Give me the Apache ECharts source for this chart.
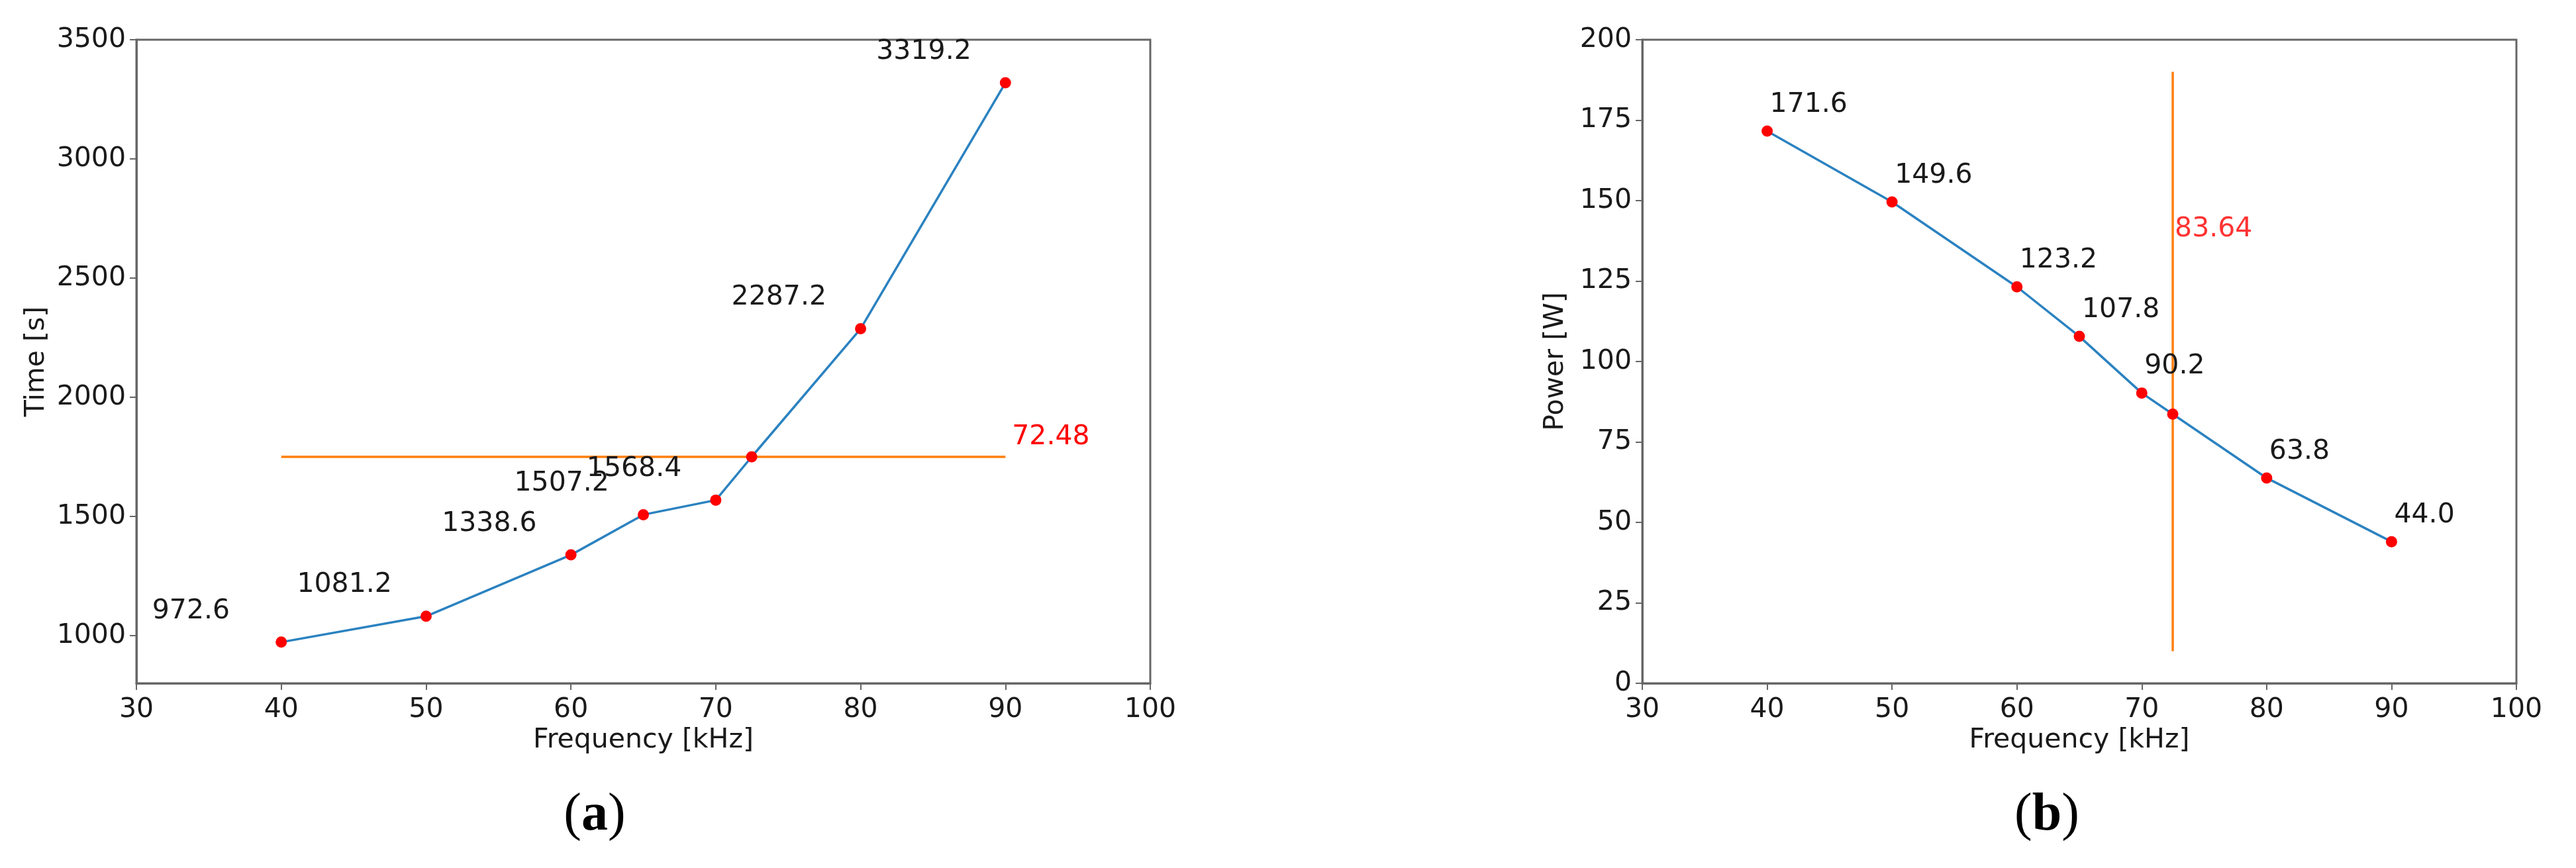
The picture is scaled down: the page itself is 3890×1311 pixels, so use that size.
<!DOCTYPE html>
<html>
<head>
<meta charset="utf-8">
<script src="https://cdn.jsdelivr.net/npm/echarts@6/dist/echarts.min.js"></script>
<style>
  html, body { margin: 0; padding: 0; background: #fff; }
  #main { width: 3890px; height: 1311px; }
</style>
</head>
<body>
<div id="main"></div>
<script>
// measured points
const freq = [40, 50, 60, 65, 70, 80, 90];
const time = [972.6, 1081.2, 1338.6, 1507.2, 1568.4, 2287.2, 3319.2];
const power = [171.6, 149.6, 123.2, 107.8, 90.2, 63.8, 44.0];

// optimum crossing
const optFreq = 72.48;
const timeLimit = 1750;
const optPower = 83.64;
const limitSpan = [40, 90];      // horizontal line in (a)
const powerSpan = [10, 190];     // vertical line in (b)
const noteB = [optFreq, 141];    // where the 83.64 text sits

const timeTicks = [1000, 1500, 2000, 2500, 3000, 3500];

const FONT = 'DejaVu Sans';
const TXT = '#1a1a1a';
const AX = '#666';

// merge the crossing point into the curve, without a label
function withCross(ys, crossY) {
  var out = [];
  for (var i = 0; i < freq.length; i++) {
    if (freq[i] > optFreq && (i == 0 || freq[i - 1] < optFreq)) {
      out.push({ value: [optFreq, crossY], label: { show: false } });
    }
    out.push([freq[i], ys[i]]);
  }
  return out;
}

function plain(v) { return String(v); }

function xAx(idx) {
  return {
    gridIndex: idx, type: 'value', min: 30, max: 100, interval: 10,
    name: 'Frequency [kHz]', nameLocation: 'middle', nameGap: 64,
    nameTextStyle: { fontSize: 41, color: TXT, fontFamily: FONT },
    axisLine: { show: true, lineStyle: { color: AX, width: 3 } },
    axisTick: { show: true, length: 10, lineStyle: { color: AX, width: 2 } },
    axisLabel: { fontSize: 41, color: TXT, fontFamily: FONT, margin: 20, formatter: plain },
    splitLine: { show: false }
  };
}

var chart = echarts.init(document.getElementById('main'));
var option = {
  backgroundColor: '#fff',
  animation: false,
  grid: [
    { left: 206, top: 60, width: 1531, height: 972, show: true, borderColor: AX, borderWidth: 3 },
    { left: 2480, top: 60, width: 1320, height: 972, show: true, borderColor: AX, borderWidth: 3 }
  ],
  xAxis: [xAx(0), xAx(1)],
  yAxis: [{
    gridIndex: 0, type: 'value', min: 800, max: 3500,
    name: 'Time [s]', nameLocation: 'middle', nameGap: 130,
    nameTextStyle: { fontSize: 41, color: TXT, fontFamily: FONT },
    axisLine: { show: true, lineStyle: { color: AX, width: 3 } },
    axisTick: { show: true, length: 10, customValues: timeTicks, lineStyle: { color: AX, width: 2 } },
    axisLabel: { fontSize: 41, color: TXT, fontFamily: FONT, margin: 16, customValues: timeTicks, formatter: plain },
    splitLine: { show: false }
  }, {
    gridIndex: 1, type: 'value', min: 0, max: 200, interval: 25,
    name: 'Power [W]', nameLocation: 'middle', nameGap: 110,
    nameTextStyle: { fontSize: 41, color: TXT, fontFamily: FONT },
    axisLine: { show: true, lineStyle: { color: AX, width: 3 } },
    axisTick: { show: true, length: 10, lineStyle: { color: AX, width: 2 } },
    axisLabel: { fontSize: 41, color: TXT, fontFamily: FONT, margin: 16, formatter: plain },
    splitLine: { show: false }
  }],
  series: [{
    // (a) time limit line
    type: 'line', xAxisIndex: 0, yAxisIndex: 0,
    data: [[limitSpan[0], timeLimit], [limitSpan[1], timeLimit]],
    symbol: 'none',
    lineStyle: { color: '#ff7f0e', width: 3.5 },
    endLabel: {
      show: true, formatter: String(optFreq), color: '#ff0000',
      fontSize: 41, fontFamily: FONT, distance: 10, offset: [0, -30]
    },
    z: 2
  }, {
    type: 'line', xAxisIndex: 0, yAxisIndex: 0,
    data: withCross(time, timeLimit),
    symbol: 'circle', symbolSize: 17,
    itemStyle: { color: '#ff0000' },
    lineStyle: { color: '#2b82c0', width: 3.5 },
    label: {
      show: true, position: 'inside', align: 'left', verticalAlign: 'middle',
      offset: [-195, -47], fontSize: 41, fontFamily: FONT, color: TXT,
      formatter: function (p) { return p.value[1].toFixed(1); }
    },
    z: 3
  }, {
    // (b) optimum frequency line
    type: 'line', xAxisIndex: 1, yAxisIndex: 1,
    data: [[optFreq, powerSpan[0]], [optFreq, powerSpan[1]]],
    symbol: 'none',
    lineStyle: { color: '#ff7f0e', width: 3.5 },
    z: 2
  }, {
    type: 'scatter', xAxisIndex: 1, yAxisIndex: 1,
    data: [noteB],
    symbolSize: 0,
    label: {
      show: true, position: 'inside', align: 'left', verticalAlign: 'middle',
      offset: [3, 0], fontSize: 41, fontFamily: FONT, color: '#ff0000',
      formatter: String(optPower)
    },
    z: 2
  }, {
    type: 'line', xAxisIndex: 1, yAxisIndex: 1,
    data: withCross(power, optPower),
    symbol: 'circle', symbolSize: 17,
    itemStyle: { color: '#ff0000' },
    lineStyle: { color: '#2b82c0', width: 3.5 },
    label: {
      show: true, position: 'inside', align: 'left', verticalAlign: 'middle',
      offset: [4, -40], fontSize: 41, fontFamily: FONT, color: TXT,
      formatter: function (p) { return p.value[1].toFixed(1); }
    },
    z: 3
  }],
  graphic: [{
    type: 'text', x: 898, y: 1232,
    style: {
      text: '{p|(}{b|a}{p|)}', align: 'center', verticalAlign: 'middle',
      rich: {
        p: { font: '80px "Liberation Serif"', fill: '#000' },
        b: { font: 'bold 80px "Liberation Serif"', fill: '#000' }
      }
    }
  }, {
    type: 'text', x: 3091, y: 1232,
    style: {
      text: '{p|(}{b|b}{p|)}', align: 'center', verticalAlign: 'middle',
      rich: {
        p: { font: '80px "Liberation Serif"', fill: '#000' },
        b: { font: 'bold 80px "Liberation Serif"', fill: '#000' }
      }
    }
  }]
};
chart.setOption(option);
</script>
</body>
</html>
